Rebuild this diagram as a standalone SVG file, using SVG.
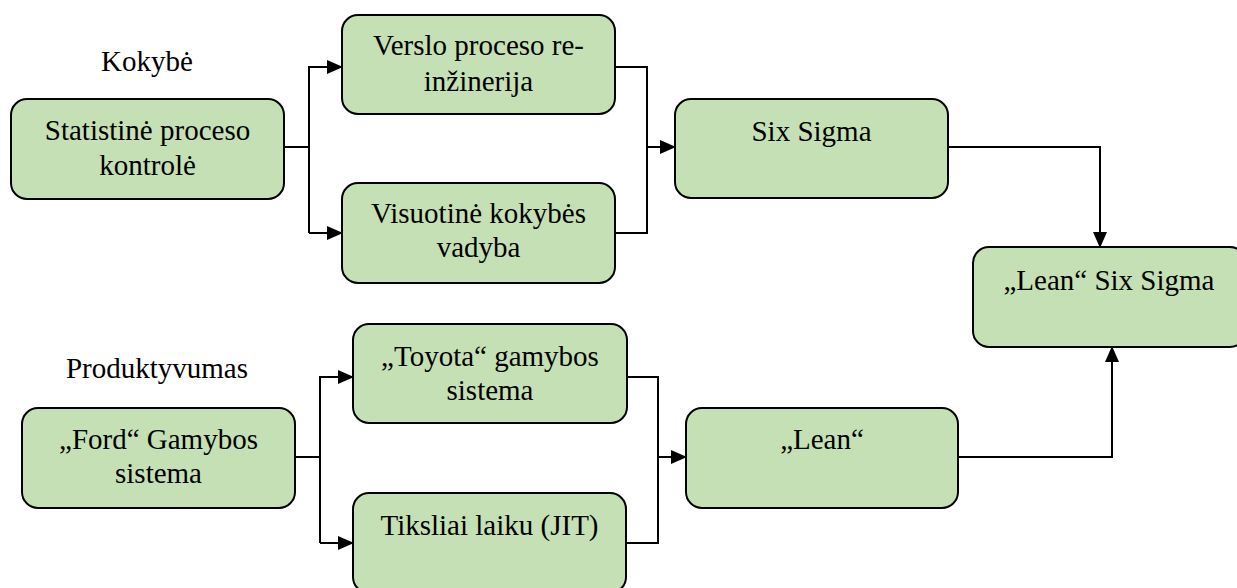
<svg xmlns="http://www.w3.org/2000/svg" width="1237" height="588" viewBox="0 0 1237 588">
<style>
.box{fill:#C5E0B4;stroke:#000;stroke-width:2}
.t{font-family:'Liberation Serif','Times New Roman',Tinos,'DejaVu Serif',serif;font-size:29px;fill:#000;text-anchor:middle}
.c{fill:none;stroke:#000;stroke-width:2}
.a{fill:none;stroke:#000;stroke-width:2;marker-end:url(#arr)}
</style>
<defs>
<marker id="arr" markerWidth="16" markerHeight="14" viewBox="0 0 16 14" refX="15" refY="7" orient="auto" markerUnits="userSpaceOnUse">
<path d="M0,0 L16,7 L0,14 Z" fill="#000"/>
</marker>
</defs>
<g id="labels">
<text class="t" x="147" y="71">Kokybė</text>
<text class="t" x="157" y="378">Produktyvumas</text>
</g>
<g id="connectors">
<path class="c" d="M284,147 H309 V233"/>
<path class="a" d="M309,147 V67 H342"/>
<path class="a" d="M309,233 H342"/>
<path class="c" d="M615,67 H647 V233 H615"/>
<path class="a" d="M647,147 H675"/>
<path class="a" d="M948,147 H1100 V247"/>
<path class="c" d="M295,457 H320 V543"/>
<path class="a" d="M320,457 V377 H353"/>
<path class="a" d="M320,543 H353"/>
<path class="c" d="M627,377 H658 V543 H626"/>
<path class="a" d="M658,457 H686"/>
<path class="a" d="M958,457 H1112 V347"/>
</g>
<g id="n_spc">
<rect class="box" x="11" y="99" width="273" height="100" rx="16"/>
<text class="t" x="147.5" y="140">Statistinė proceso</text>
<text class="t" x="147.5" y="175">kontrolė</text>
</g>
<g id="n_bpr">
<rect class="box" x="342" y="15" width="273" height="99" rx="16"/>
<text class="t" x="478.5" y="55">Verslo proceso re-</text>
<text class="t" x="478.5" y="91">inžinerija</text>
</g>
<g id="n_tqm">
<rect class="box" x="342" y="183" width="273" height="100" rx="16"/>
<text class="t" x="478.5" y="223">Visuotinė kokybės</text>
<text class="t" x="478.5" y="257">vadyba</text>
</g>
<g id="n_sixsigma">
<rect class="box" x="675" y="99" width="273" height="99" rx="16"/>
<text class="t" x="811.5" y="141">Six Sigma</text>
</g>
<g id="n_leansixsigma">
<rect class="box" x="973" y="247" width="273" height="100" rx="16"/>
<text class="t" x="1109" y="290">„Lean“ Six Sigma</text>
</g>
<g id="n_ford">
<rect class="box" x="22" y="408" width="273" height="100" rx="16"/>
<text class="t" x="158.5" y="449">„Ford“ Gamybos</text>
<text class="t" x="158.5" y="483">sistema</text>
</g>
<g id="n_toyota">
<rect class="box" x="353" y="324" width="274" height="99" rx="16"/>
<text class="t" x="490" y="366">„Toyota“ gamybos</text>
<text class="t" x="490" y="400">sistema</text>
</g>
<g id="n_jit">
<rect class="box" x="353" y="493" width="273" height="100" rx="16"/>
<text class="t" x="489.5" y="535">Tiksliai laiku (JIT)</text>
</g>
<g id="n_lean">
<rect class="box" x="686" y="408" width="272" height="100" rx="16"/>
<text class="t" x="822" y="449">„Lean“</text>
</g>
</svg>
